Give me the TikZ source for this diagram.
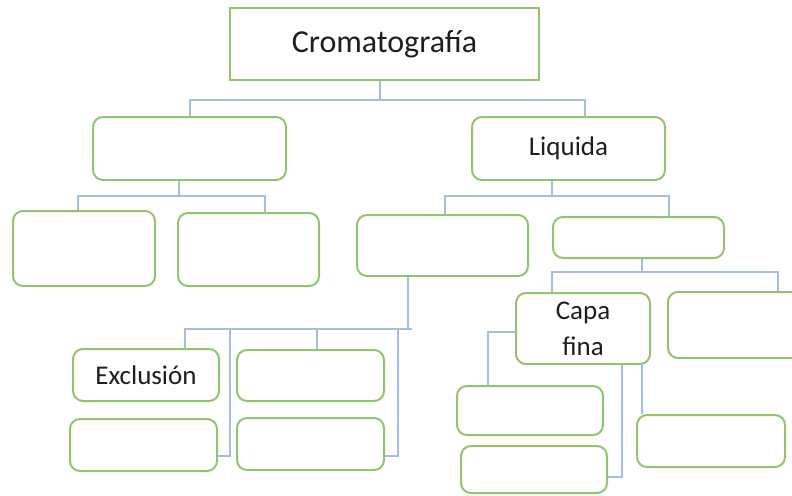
\documentclass[tikz,border=0pt]{standalone}
\usepackage{fontspec}
\setmainfont{Carlito}
\definecolor{boxgreen}{RGB}{146,196,108}
\definecolor{linkblue}{RGB}{164,188,230}
\definecolor{inkgray}{RGB}{30,30,30}
\tikzset{
  box/.style={draw=boxgreen, line width=2pt, rounded corners=10pt, fill=white,
    inner sep=0pt, text=inkgray, align=center,
    font=\fontsize{27}{36}\selectfont},
  rootbox/.style={box, rounded corners=0pt, font=\fontsize{32}{38}\selectfont},
  conn/.style={draw=linkblue, line width=1.5pt},
}
% empty rounded box: x, y, width, height, name
\newcommand{\bx}[5]{%
  \node[box, minimum width=#3pt, minimum height=#4pt] (#5) at (#1,#2) {};}
\begin{document}
\begin{tikzpicture}[x=1pt,y=-1pt]
\useasboundingbox (0,0) rectangle (792,495);
\clip (0,0) rectangle (792,495);
\fill[white] (0,0) rectangle (792,495);

% bus junctions
\coordinate (busA) at (380,100);
\coordinate (busB) at (179,196);
\coordinate (busC) at (552,196);
\coordinate (busD) at (642,272);
\coordinate (busE) at (408,329);

% boxes
\node[rootbox, minimum width=309pt, minimum height=72pt] (root) at (384.5,44) {Cromatografía};
\bx{189.5}{148.5}{193}{63}{left}
\node[box, minimum width=193pt, minimum height=63pt] (liq) at (568.5,148.5) {Liquida};
\bx{84}{248.5}{142}{75}{lefta}
\bx{248.5}{249.5}{141}{73}{leftb}
\bx{442.5}{245.5}{171}{61}{liqa}
\bx{638.5}{237.5}{171}{41}{liqb}
\node[box, minimum width=134pt, minimum height=71pt] (capa) at (583,328.5) {Capa\\fina};
\bx{744}{325}{152}{66}{liqbr}
\node[box, minimum width=146pt, minimum height=52pt] (excl) at (146,375) {Exclusión};
\bx{143.5}{445}{147}{52}{exclb}
\bx{310.5}{375.5}{147}{51}{liqar}
\bx{310.5}{444}{147}{52}{liqarb}
\bx{530}{410.5}{146}{49}{capaa}
\bx{534}{469.5}{146}{47}{capab}
\bx{711}{441}{148}{52}{capac}

% root level
\draw[conn] (380,0 |- root.south) -- (busA);
\draw[conn] (190,0 |- left.north) |- (busA) -| (585,0 |- liq.north);
% left branch
\draw[conn] (179,0 |- left.south) -- (busB);
\draw[conn] (78,0 |- lefta.north) |- (busB) -| (265,0 |- leftb.north);
% liquid branch
\draw[conn] (552,0 |- liq.south) -- (busC);
\draw[conn] (445,0 |- liqa.north) |- (busC) -| (669,0 |- liqb.north);
% right sub-branch
\draw[conn] (642,0 |- liqb.south) -- (busD);
\draw[conn] (552,0 |- capa.north) |- (busD) -| (778,0 |- liqbr.north);
% column branch
\draw[conn] (408,0 |- liqa.south) -- (busE) -- (412,329);
\draw[conn] (185,0 |- excl.north) |- (busE);
\draw[conn] (230,329) |- (exclb.east |- 0,456);
\draw[conn] (317,329) -- (317,0 |- liqar.north);
\draw[conn] (398,329) |- (liqarb.east |- 0,456);
% thin layer branch
\draw[conn] (capa.west |- 0,332) -| (488,0 |- capaa.north);
\draw[conn] (622,0 |- capa.south) |- (capab.east |- 0,477);
\draw[conn] (642,0 |- capa.south) -- (642,0 |- capac.north);
\end{tikzpicture}
\end{document}
